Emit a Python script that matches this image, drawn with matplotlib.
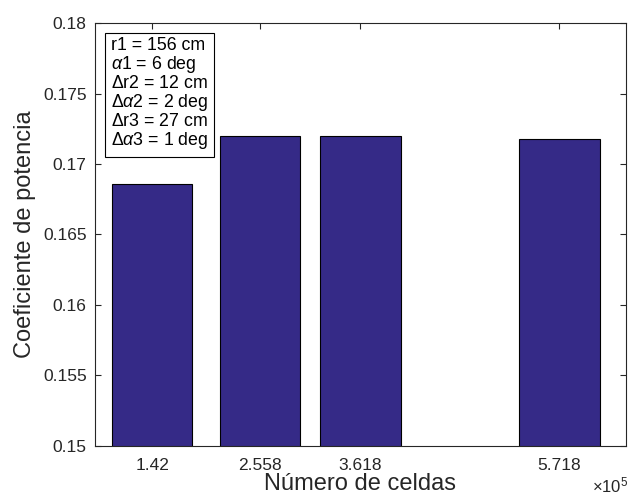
import matplotlib
matplotlib.use("Agg")
import matplotlib.pyplot as plt

plt.rcParams['font.family'] = ['Liberation Sans', 'DejaVu Sans']
plt.rcParams['mathtext.fontset'] = 'custom'
plt.rcParams['mathtext.rm'] = 'Liberation Sans'
plt.rcParams['mathtext.it'] = 'Liberation Sans:italic'
plt.rcParams['mathtext.bf'] = 'Liberation Sans:bold'

# Data
celdas = [1.42, 2.558, 3.618, 5.718]          # x 10^5
coef = [0.16858, 0.17199, 0.17199, 0.17177]
tick_labels = ['1.42', '2.558', '3.618', '5.718']
yticks = [0.15, 0.155, 0.16, 0.165, 0.17, 0.175, 0.18]
ytick_labels = ['0.15', '0.155', '0.16', '0.165', '0.17', '0.175', '0.18']
info = [r'r1 = 156 cm', r'$\alpha$1 = 6 deg', r'$\Delta$r2 = 12 cm',
        r'$\Delta\alpha$2 = 2 deg', r'$\Delta$r3 = 27 cm', r'$\Delta\alpha$3 = 1 deg']

W, H = 629, 496
fig = plt.figure(figsize=(W / 100, H / 100), dpi=100)
ax = fig.add_axes([95 / W, (H - 446) / H, (626 - 95) / W, (446 - 23) / H])

ax.bar(celdas, coef, width=0.848, color='#352a87', edgecolor='black', linewidth=0.8, zorder=2)

ax.set_xlim(0.817, 6.421)
ax.set_ylim(0.15, 0.18)
ax.set_xticks(celdas)
ax.set_xticklabels(tick_labels, fontsize=12.5)
ax.set_yticks(yticks)
ax.set_yticklabels(ytick_labels, fontsize=12.5)
ax.tick_params(direction='in', length=4, width=0.8, top=True, right=True, colors='#262626')
ax.tick_params(axis='x', pad=9)
ax.tick_params(axis='y', pad=6)
for s in ax.spines.values():
    s.set_linewidth(0.8)
    s.set_color('#262626')

ax.set_ylabel('Coeficiente de potencia', fontsize=17, color='#262626', labelpad=5)
ax.set_xlabel('Número de celdas', fontsize=17, color='#262626', labelpad=0)
fig.text(628 / W, 1 - 485 / H, r'$\times10^{5}$', fontsize=12, ha='right', va='center', color='#262626')

ax.text(0.030, 0.967, '\n'.join(info), transform=ax.transAxes, ha='left', va='top',
        fontsize=12.8, linespacing=1.0, color='black',
        bbox=dict(boxstyle='square,pad=0.35', facecolor='white', edgecolor='black', linewidth=0.8),
        zorder=5)

fig.savefig('out.png', dpi=100)
